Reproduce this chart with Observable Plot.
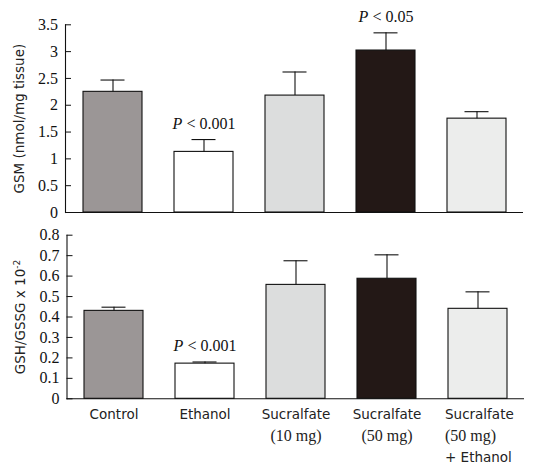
<!DOCTYPE html>
<html>
<head>
<meta charset="utf-8">
<script src="https://cdn.jsdelivr.net/npm/d3@7"></script>
<script src="https://cdn.jsdelivr.net/npm/@observablehq/plot@0.6"></script>
<style>
  html, body { margin: 0; padding: 0; background: #fff; }
  #chart { width: 533px; height: 473px; }
  #chart svg { display: block; }
</style>
</head>
<body>
<div id="chart"></div>
<script>
const categories = ["Control", "Ethanol", "Sucralfate (10 mg)", "Sucralfate (50 mg)", "Sucralfate (50 mg) + Ethanol"];
const categoryLabels = ["Control", "Ethanol", "Sucralfate\n(10 mg)", "Sucralfate\n(50 mg)", "Sucralfate\n(50 mg)\n+ Ethanol"];
const barColors = ["#9b9696", "#ffffff", "#dcdddd", "#231816", "#ecedec"];

const gsmValues = [2.25, 1.13, 2.18, 3.02, 1.75];
const gsmErrors = [0.22, 0.23, 0.44, 0.33, 0.13];
const gsmTicks = [0, 0.5, 1, 1.5, 2, 2.5, 3, 3.5];
const gsmTickLabels = ["0", "0.5", "1", "1.5", "2", "2.5", "3", "3.5"];
const gsmTitle = "GSM (nmol/mg tissue)";
const gsmNotes = [["Ethanol", "P < 0.001"], ["Sucralfate (50 mg)", "P < 0.05"]];

const ratioValues = [0.43, 0.172, 0.557, 0.587, 0.44];
const ratioErrors = [0.018, 0.008, 0.118, 0.117, 0.083];
const ratioTicks = [0, 0.1, 0.2, 0.3, 0.4, 0.5, 0.6, 0.7, 0.8];
const ratioTickLabels = ["0", "0.1", "0.2", "0.3", "0.4", "0.5", "0.6", "0.7", "0.8"];
const ratioTitle = "GSH/GSSG x 10";
const ratioTitleSup = "-2";
const ratioNotes = [["Ethanol", "P < 0.001"]];

const SERIF = "Liberation Serif, Times New Roman, serif";
const SANS = "DejaVu Sans, Verdana, sans-serif";

function panel({values, errors, ticks, tickLabels, title, notes, height, marginTop, marginBottom, marginLeft, marginRight, showX}) {
  const rows = categories.map((c, i) => ({cat: c, value: values[i], err: values[i] + errors[i], color: barColors[i]}));
  const noteRows = notes.map(([cat, text]) => {
    const r = rows.find(d => d.cat === cat);
    return {cat, text, y: r.err};
  });
  const marks = [
    Plot.barY(rows, {x: "cat", y: "value", fill: "color", stroke: "#111", strokeWidth: 1.1}),
    Plot.ruleX(rows, {x: "cat", y1: "value", y2: "err", stroke: "#111", strokeWidth: 1.1}),
    Plot.tickY(rows, {x: "cat", y: "err", stroke: "#111", strokeWidth: 1.1, inset: 17.5}),
    Plot.ruleY([0], {stroke: "#111", strokeWidth: 1.1}),
    Plot.frame({anchor: "left", stroke: "#111", strokeWidth: 1.1}),
    Plot.axisY({ticks, tickFormat: (d) => tickLabels[ticks.indexOf(d)], tickSize: -6, tickPadding: 13.5,
      fontFamily: SERIF, fontSize: 16, fill: "#111", stroke: "#111", label: null}),
    Plot.text([title], {frameAnchor: "left", textAnchor: "middle", rotate: -90, dx: -46, fontFamily: SANS, fontSize: 13.5, fill: "#222", text: d => d}),
    Plot.text(noteRows, {x: "cat", y: "y", text: "text", dy: -16, fontFamily: SERIF, fontSize: 16, fill: "#111"})
  ];
  if (showX) {
    marks.push(Plot.axisX({tickSize: 0, tickPadding: 5, tickFormat: (d) => categoryLabels[categories.indexOf(d)],
      fontFamily: SANS, fontSize: 13.5, lineHeight: 1.6, fill: "#222", label: null}));
  } else {
    marks.push(Plot.axisX({ticks: [], label: null}));
  }
  return Plot.plot({
    width: 533, height, marginTop, marginBottom, marginLeft, marginRight,
    x: {domain: categories, paddingInner: 0.356, paddingOuter: 0.178, label: null},
    y: {domain: [0, ticks[ticks.length - 1]], label: null},
    color: {type: "identity"},
    style: {background: "#fff", overflow: "visible"},
    marks
  });
}

const topPanel = panel({values: gsmValues, errors: gsmErrors, ticks: gsmTicks, tickLabels: gsmTickLabels,
  title: gsmTitle, notes: gsmNotes, height: 222, marginTop: 24.3, marginBottom: 10, marginLeft: 65, marginRight: 10, showX: false});
const bottomPanel = panel({values: ratioValues, errors: ratioErrors, ticks: ratioTicks, tickLabels: ratioTickLabels,
  title: ratioTitle, notes: ratioNotes, height: 251, marginTop: 12.7, marginBottom: 74.7, marginLeft: 66.5, marginRight: 9, showX: true});

const chart = document.getElementById("chart");
chart.appendChild(topPanel);
chart.appendChild(bottomPanel);

// Typographic touches: italic P, superscript, serif "(xx mg)" lines, left-aligned last label
for (const svg of [topPanel, bottomPanel]) {
  svg.querySelectorAll("text").forEach(t => {
    const s = t.textContent;
    if (s.startsWith("P <") && t.children.length === 0) {
      t.textContent = "";
      const p = document.createElementNS("http://www.w3.org/2000/svg", "tspan");
      p.setAttribute("font-style", "italic");
      p.textContent = "P";
      t.appendChild(p);
      t.appendChild(document.createTextNode(s.slice(1)));
    }
    if (s === ratioTitle) {
      const sup = document.createElementNS("http://www.w3.org/2000/svg", "tspan");
      sup.setAttribute("dy", "-0.55em");
      sup.setAttribute("font-size", "9");
      sup.textContent = ratioTitleSup;
      t.appendChild(sup);
    }
  });
  svg.querySelectorAll("text").forEach(t => {
    const spans = t.querySelectorAll("tspan");
    if (spans.length > 1 && t.textContent.startsWith("Sucralfate")) {
      spans.forEach((ts, i) => {
        if (i > 0) ts.setAttribute("dy", i === 1 ? "22" : "21");
        if (/mg\)$/.test(ts.textContent)) {
          ts.setAttribute("font-family", SERIF);
          ts.setAttribute("font-size", "16");
        }
      });
    }
    if (t.textContent.includes("+ Ethanol")) {
      t.setAttribute("text-anchor", "start");
      const tr = t.getAttribute("transform") || "";
      const m = /translate\(([-\d.]+),([-\d.]+)\)/.exec(tr);
      if (m) t.setAttribute("transform", `translate(${+m[1] - 33},${m[2]})`);
    }
  });
}
</script>
</body>
</html>
